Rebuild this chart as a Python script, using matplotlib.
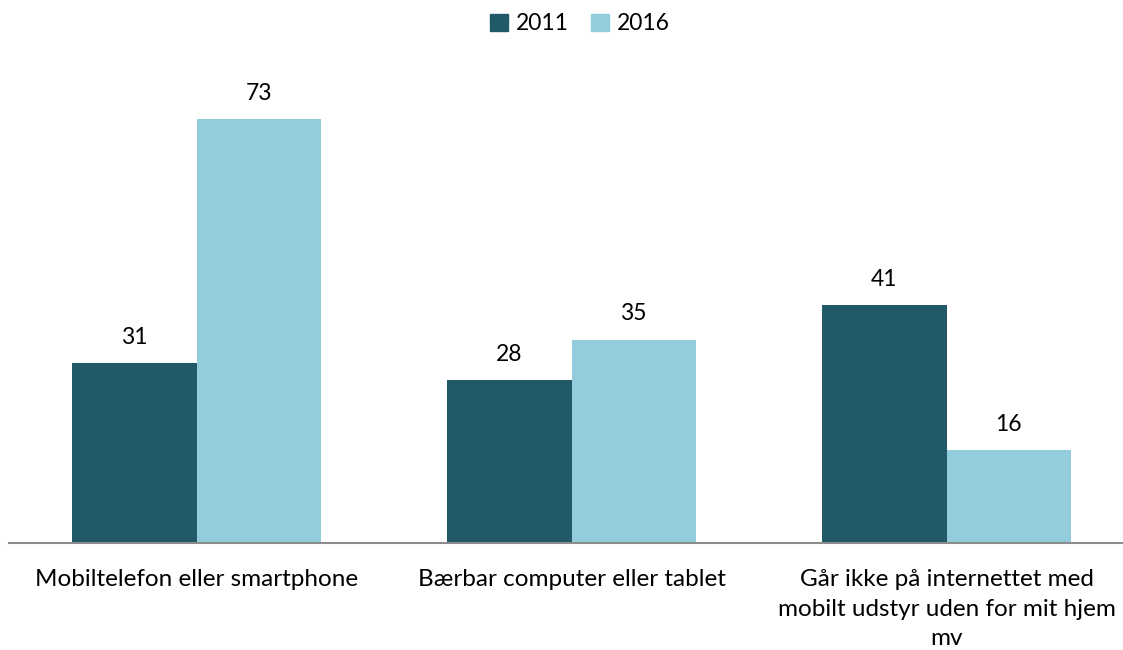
import matplotlib
matplotlib.use("Agg")
import matplotlib.pyplot as plt
import numpy as np
from matplotlib.patches import Patch

plt.rcParams['font.family'] = ['Lato', 'DejaVu Sans']

categories = ["Mobiltelefon eller smartphone", "Bærbar computer eller tablet",
              "Går ikke på internettet med\nmobilt udstyr uden for mit hjem\nmv"]
series_names = ["2011", "2016"]
values_2011 = [31, 28, 41]
values_2016 = [73, 35, 16]
colors = ["#215968", "#93CDDD"]

fig = plt.figure(figsize=(11.23, 6.5), dpi=100)
ax = fig.add_axes([9/1123, 107/650, 1125/1123, 465/650])

x = np.arange(len(categories))
w = 0.332
b1 = ax.bar(x - w/2, values_2011, w, color=colors[0])
b2 = ax.bar(x + w/2, values_2016, w, color=colors[1])
for bars, vals in ((b1, values_2011), (b2, values_2016)):
    for r, v in zip(bars, vals):
        ax.text(r.get_x() + r.get_width()/2, v + 2.6, str(v), ha='center', va='bottom', fontsize=16.5)

ax.set_xlim(-0.5, 2.5)
ax.set_ylim(0, 80)
for s in ['top', 'right', 'left']:
    ax.spines[s].set_visible(False)
ax.spines['bottom'].set_color('#8c8c8c')
ax.spines['bottom'].set_linewidth(1.5)
ax.set_yticks([])
ax.set_xticks(x)
ax.set_xticklabels(categories, fontsize=17.5, linespacing=1.5)
ax.tick_params(axis='x', length=0, pad=19)

handles = [Patch(color=colors[0], label=series_names[0]), Patch(color=colors[1], label=series_names[1])]
fig.legend(handles=handles, loc='center', bbox_to_anchor=(580/1123, 1 - 24/650), ncol=2, frameon=False,
           fontsize=16.5, handlelength=0.75, handleheight=0.75, handletextpad=0.35, columnspacing=1.0)

fig.savefig("out.png", dpi=100)
